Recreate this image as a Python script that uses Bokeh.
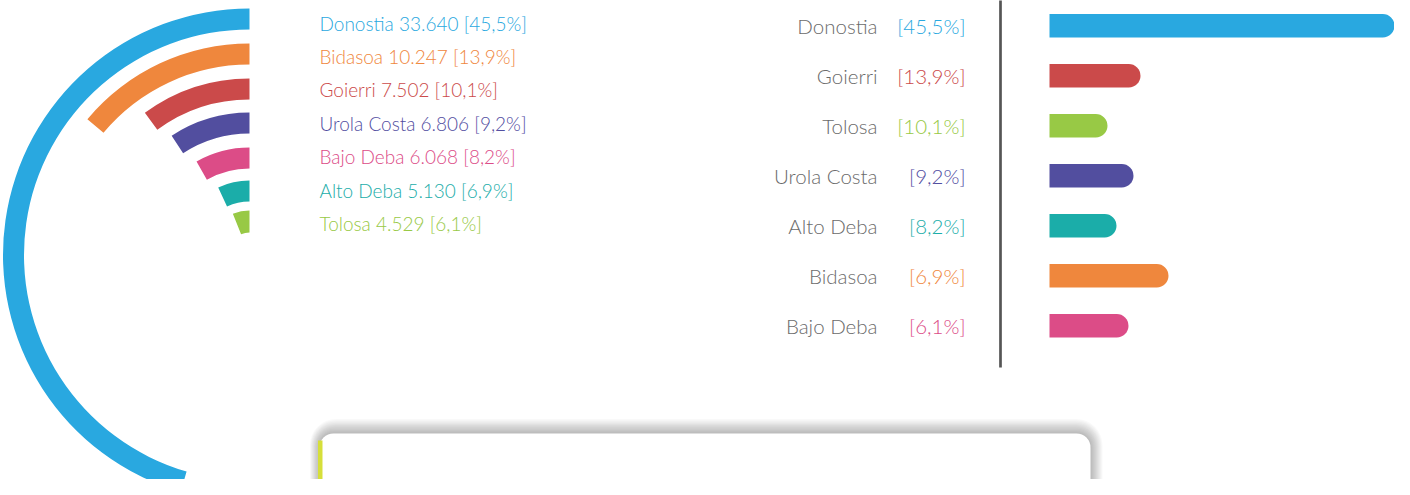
import math
from bokeh.plotting import figure
from bokeh.models import Range1d, ColumnDataSource
from bokeh.core.properties import value
from bokeh.embed import file_html
from bokeh.resources import INLINE

# ---------------- data: radial chart (left) ----------------
comarcas = ["Donostia", "Bidasoa", "Goierri", "Urola Costa", "Bajo Deba", "Alto Deba", "Tolosa"]
poblacion = [33640, 10247, 7502, 6806, 6068, 5130, 4529]
porcentaje = [45.5, 13.9, 10.1, 9.2, 8.2, 6.9, 6.1]
colores = ["#29a8e0", "#ef873d", "#cb4a4a", "#524e9f", "#dc4c87", "#1bada9", "#98c945"]

# ---------------- data: bar chart (right) ----------------
barra_nombres = ["Donostia", "Goierri", "Tolosa", "Urola Costa", "Alto Deba", "Bidasoa", "Bajo Deba"]
barra_pct = ["[45,5%]", "[13,9%]", "[10,1%]", "[9,2%]", "[8,2%]", "[6,9%]", "[6,1%]"]
barra_valores = [353, 91, 58, 84, 67, 119, 79]
barra_colores = ["#29a8e0", "#cb4a4a", "#98c945", "#524e9f", "#1bada9", "#ef873d", "#dc4c87"]

titulo = "Distribución de la población por comarcas"

# ---------------- layout (data units = page pixels) ----------------
MARGIN = 8
W, H = 1394, 479
PAGE_H = 495
def SY(s):
    return PAGE_H - s

FONT = value("Lato Light")

p = figure(width=W, height=H, x_range=Range1d(MARGIN, MARGIN + W),
           y_range=Range1d(PAGE_H - MARGIN - H, PAGE_H - MARGIN),
           output_backend="svg", toolbar_location=None, min_border=0)
p.axis.visible = False
p.xgrid.visible = False
p.ygrid.visible = False
p.outline_line_color = None
p.background_fill_color = "white"
p.border_fill_color = "white"

# radial arcs
cx, cy = 257, SY(262.5)
ring_outer = [246.5, 211.5, 176.5, 142.5, 107.5, 74.5, 44.5]
ring_width = [21, 21, 21, 21, 21, 21, 22]
arc_src = ColumnDataSource(dict(
    x=[cx] * len(comarcas), y=[cy] * len(comarcas),
    inner=[o - w for o, w in zip(ring_outer, ring_width)], outer=ring_outer,
    start=[math.pi / 2] * len(comarcas),
    end=[math.pi / 2 + v / 100 * 2 * math.pi for v in porcentaje],
    color=colores))
p.annular_wedge(x="x", y="y", inner_radius="inner", outer_radius="outer",
                start_angle="start", end_angle="end", direction="anticlock",
                fill_color="color", line_color=None, source=arc_src)

# legend texts
def fmt_pop(n):
    return f"{n:,}".replace(",", ".")
def fmt_pct(v):
    return f"[{v:.1f}%]".replace(".", ",")
leg_y0, leg_dy = 30.5, 33.4
leg_src = ColumnDataSource(dict(
    x=[327] * len(comarcas),
    y=[SY(leg_y0 + i * leg_dy) for i in range(len(comarcas))],
    text=[f"{c} {fmt_pop(n)} {fmt_pct(v)}" for c, n, v in zip(comarcas, poblacion, porcentaje)],
    color=colores))
p.text(x="x", y="y", text="text", text_color="color", text_font=FONT,
       text_font_size="19px", text_baseline="middle", text_align="left", source=leg_src)

# right bar chart
row_y = [SY(33.3 + 50 * i) for i in range(len(barra_nombres))]
bar_x0 = 1057
bar_src = ColumnDataSource(dict(
    y=row_y, left=[bar_x0] * len(barra_valores),
    right=[bar_x0 + v for v in barra_valores], color=barra_colores,
    name=barra_nombres, pct=barra_pct,
    xn=[885] * len(barra_nombres), xp=[973] * len(barra_nombres)))
p.hbar(y="y", left="left", right="right", height=23.5, fill_color="color", line_color=None,
       border_radius=(0, 12, 12, 0), source=bar_src)
p.text(x="xn", y="y", text="name", text_color="#6b6b6b", text_font=FONT,
       text_font_size="20.5px", text_baseline="middle", text_align="right", source=bar_src)
p.text(x="xp", y="y", text="pct", text_color="color", text_font=FONT,
       text_font_size="20.5px", text_baseline="middle", text_align="right", source=bar_src)

# vertical divider
p.segment(x0=[1008], y0=[SY(0)], x1=[1008], y1=[SY(375)], line_color="#555555", line_width=2.7)

# card with shadow
for k in range(12, 0, -1):
    p.quad(left=[327 - k * 0.8], right=[1098 + k], top=[SY(441 - k * 1.2)], bottom=[SY(540)],
           fill_color="black", fill_alpha=0.022, line_color=None, border_radius=14 + k)
p.quad(left=[327], right=[1098], top=[SY(441)], bottom=[SY(540)], fill_color="white",
       line_color=None, border_radius=(14, 14, 0, 0))
p.quad(left=[325.5], right=[330], top=[SY(448)], bottom=[SY(540)], fill_color="#d6df3a",
       line_color=None)
p.text(x=[363], y=[SY(499)], text=[titulo], text_color="#333333", text_font=FONT,
       text_font_size="24px", text_baseline="alphabetic", text_align="left")

open("out.html", "w").write(file_html(p, INLINE))
